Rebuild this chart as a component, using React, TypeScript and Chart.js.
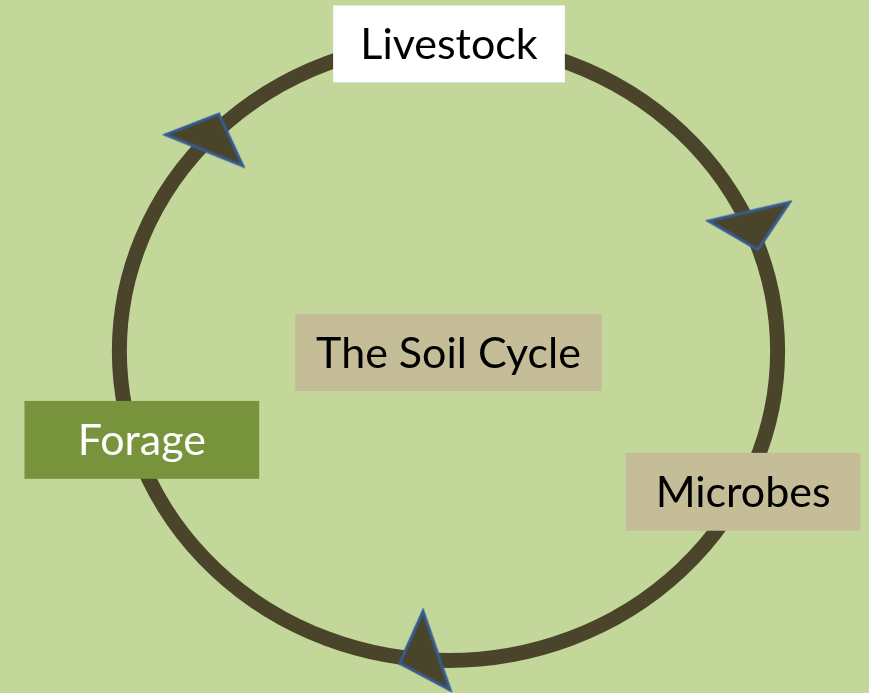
import React, { useEffect, useRef } from "react";
import { Chart, registerables } from "chart.js";

Chart.register(...registerables);

// ---- data ----
const nodeLabels = ["Livestock", "Microbes", "Forage"];
const centerLabel = "The Soil Cycle";
// arrowheads travelling clockwise round the cycle (value space = 869 x 693 view)
const arrowX = [211.3, 753.8, 418.1];
const arrowY = [131.9, 230.5, 657.4];
const arrowAngle = [22, 167, 251];

// ---- layout / style ----
const W = 869;
const H = 693;
const BG = "#C4D79B";
const RING = "#4A452A";
const ARROW_EDGE = "#355C91";
const ring = { cx: 448.5, cy: 351, rx: 329.5, ry: 310, width: 15 };
const nodeBoxes = [
  { x0: 333, x1: 565, y0: 5, y1: 82, fill: "#FFFFFF", color: "#000000" },
  { x0: 626, x1: 861, y0: 453, y1: 531, fill: "#C4BD97", color: "#000000" },
  { x0: 24, x1: 259, y0: 401, y1: 479, fill: "#77933C", color: "#FFFFFF" },
];
const centerBox = { x0: 295, x1: 602, y0: 314, y1: 391, fill: "#C4BD97", color: "#000000" };
const FONT = "43px Lato, 'Open Sans', sans-serif";

function makeArrowImage(): HTMLCanvasElement {
  const base = 83;
  const height = 39;
  const pad = 3;
  const c = document.createElement("canvas");
  c.width = base + pad * 2;
  c.height = height + pad * 2;
  const ctx = c.getContext("2d")!;
  ctx.beginPath();
  ctx.moveTo(pad + base / 2, pad);
  ctx.lineTo(pad + base, pad + height);
  ctx.lineTo(pad, pad + height);
  ctx.closePath();
  ctx.fillStyle = RING;
  ctx.fill();
  ctx.lineWidth = 3;
  ctx.lineJoin = "miter";
  ctx.strokeStyle = ARROW_EDGE;
  ctx.stroke();
  return c;
}

function drawBox(chart: any, b: any, label: string) {
  const ctx = chart.ctx as CanvasRenderingContext2D;
  const xs = chart.scales.x;
  const ys = chart.scales.y;
  const x0 = xs.getPixelForValue(b.x0);
  const x1 = xs.getPixelForValue(b.x1);
  const y0 = ys.getPixelForValue(b.y0);
  const y1 = ys.getPixelForValue(b.y1);
  ctx.save();
  ctx.fillStyle = b.fill;
  ctx.fillRect(x0, y0, x1 - x0, y1 - y0);
  ctx.font = FONT;
  ctx.fillStyle = b.color;
  ctx.textAlign = "center";
  ctx.textBaseline = "alphabetic";
  const cap = ctx.measureText("H").actualBoundingBoxAscent;
  ctx.fillText(label, (x0 + x1) / 2, (y0 + y1) / 2 + cap / 2);
  ctx.restore();
}

const diagramPlugin = {
  id: "soilDiagram",
  beforeDraw(chart: any) {
    const ctx = chart.ctx as CanvasRenderingContext2D;
    ctx.save();
    ctx.fillStyle = BG;
    ctx.fillRect(0, 0, chart.width, chart.height);
    ctx.restore();
  },
  beforeDatasetsDraw(chart: any) {
    const ctx = chart.ctx as CanvasRenderingContext2D;
    const xs = chart.scales.x;
    const ys = chart.scales.y;
    const cx = xs.getPixelForValue(ring.cx);
    const cy = ys.getPixelForValue(ring.cy);
    const rx = Math.abs(xs.getPixelForValue(ring.cx + ring.rx) - cx);
    const ry = Math.abs(ys.getPixelForValue(ring.cy + ring.ry) - cy);
    ctx.save();
    ctx.beginPath();
    ctx.ellipse(cx, cy, rx, ry, 0, 0, Math.PI * 2);
    ctx.lineWidth = ring.width;
    ctx.strokeStyle = RING;
    ctx.stroke();
    ctx.restore();
  },
  afterDatasetsDraw(chart: any) {
    nodeLabels.forEach((lab, i) => drawBox(chart, nodeBoxes[i], lab));
    drawBox(chart, centerBox, centerLabel);
  },
};

export default function App() {
  const ref = useRef<HTMLCanvasElement | null>(null);
  useEffect(() => {
    if (!ref.current) return;
    const arrowImg = makeArrowImage();
    const chart = new Chart(ref.current, {
      type: "scatter",
      data: {
        datasets: [
          {
            label: "arrows",
            data: arrowX.map((x, i) => ({ x, y: arrowY[i] })),
            pointStyle: arrowImg as any,
            rotation: arrowAngle as any,
            pointRadius: 0.5,
            pointHoverRadius: 0.5,
            pointBorderWidth: 0,
            borderWidth: 0,
            clip: false as any,
          },
        ],
      },
      options: {
        responsive: false,
        animation: false,
        events: [],
        layout: { padding: 0 },
        plugins: { legend: { display: false }, tooltip: { enabled: false } },
        scales: {
          x: { type: "linear", min: 0, max: W, display: false },
          y: { type: "linear", min: 0, max: H, reverse: true, display: false },
        },
      },
      plugins: [diagramPlugin],
    });
    return () => chart.destroy();
  }, []);
  return (
    <div style={{ position: "absolute", left: 0, top: 0, width: W, height: H }}>
      <canvas ref={ref} width={W} height={H} style={{ display: "block" }} />
    </div>
  );
}
